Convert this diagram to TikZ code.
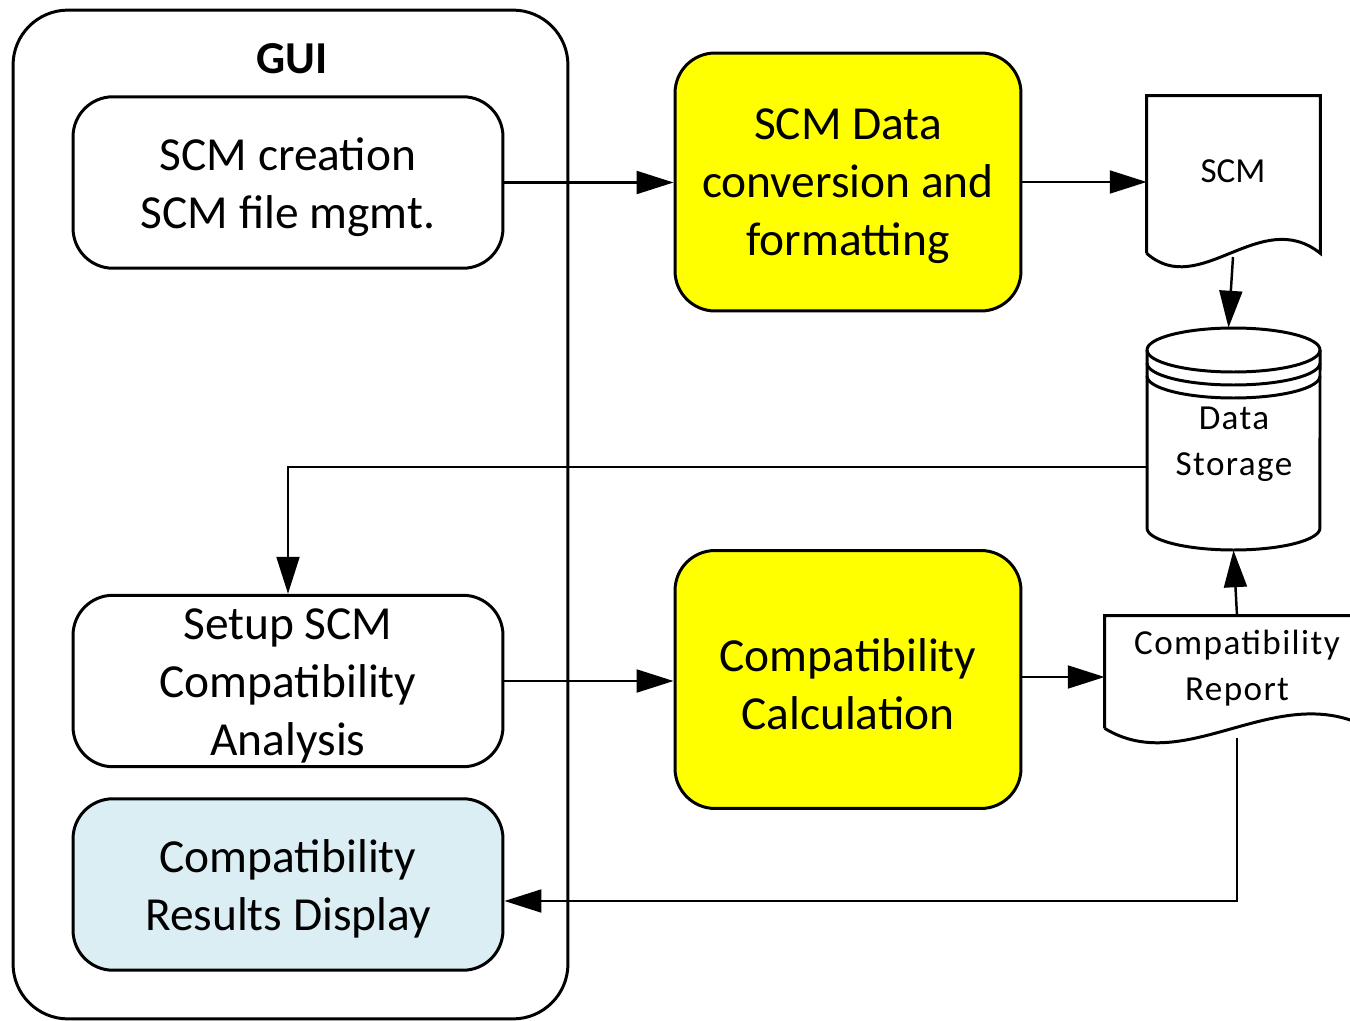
\documentclass[tikz,border=0pt]{standalone}
\usepackage{fontspec}
\setmainfont{Carlito}
\newfontfamily\spacedfont[LetterSpace=4]{Carlito}
\usetikzlibrary{arrows.meta,calc}
\definecolor{ylw}{HTML}{FFFF00}
\definecolor{lblue}{HTML}{DAEEF3}
\begin{document}
\begin{tikzpicture}[x=0.02cm,y=-0.02cm,
  shp/.style={line width=1.7pt},
  box/.style={draw,line width=1.7pt,rounded corners=0.8cm,
    minimum width=8.6cm,minimum height=3.43cm,inner sep=0pt},
  ybox/.style={box,fill=ylw,minimum width=6.92cm,minimum height=5.16cm},
  boxtxt/.style={align=center,inner sep=0pt,yshift=-0.09cm,
    font=\fontsize{27}{33}\selectfont},
  conn/.style={line width=1.4pt,-{Triangle[length=21pt,width=13pt]}},
  small/.style={align=center,inner sep=0pt,font=\spacedfont\fontsize{20}{26}\selectfont}]
\useasboundingbox (0,0) rectangle (1350,1021);
\clip (0,0) rectangle (1350,1021);
\fill[white] (0,0) rectangle (1350,1021);

% GUI container
\node[draw,line width=1.7pt,rounded corners=1.1cm,minimum width=11.1cm,minimum height=20.18cm,inner sep=0pt] (gui) at (290.5,514.5) {};
\node[font=\bfseries\fontsize{26}{30}\selectfont,inner sep=0pt] (guilbl) at (292,59) {GUI};

% GUI boxes
\node[box] (b1) at (288,182.5) {};
\node[boxtxt] (b1t) at (b1) {SCM creation\\SCM file mgmt.};
\node[box] (b2) at (288,681) {};
\node[boxtxt] (b2t) at (b2) {Setup SCM\\Compatibility\\Analysis};
\node[box,fill=lblue] (b3) at (288,884.5) {};
\node[boxtxt] (b3t) at (b3) {Compatibility\\Results Display};

% yellow boxes
\node[ybox] (y1) at (848,182) {};
\node[boxtxt] (y1t) at (y1) {SCM Data\\conversion and\\formatting};
\node[ybox] (y2) at (848,679.5) {};
\node[boxtxt] (y2t) at (y2) {Compatibility\\Calculation};

% SCM document
\node[minimum width=3.46cm,minimum height=3.14cm,inner sep=0pt] (scmdoc) at (1233.5,174.5) {};
\draw[shp] (scmdoc.south west) -- (scmdoc.north west) -- (scmdoc.north east) -- (scmdoc.south east)
  .. controls +(-60,-48) and +(53,47) .. (scmdoc.south west);
\node[font=\fontsize{20}{26}\selectfont,inner sep=0pt] (scmtxt) at (1233,171) {SCM};
\coordinate (scmbot) at (1233,257);

% Data storage cylinder
\node[minimum width=3.46cm,minimum height=4.44cm,inner sep=0pt] (store) at (1233.5,439) {};
\draw[shp] (1147,350) -- (1147,528) arc[start angle=180,end angle=360,x radius=1.73cm,y radius=0.44cm] -- (1320,350);
\draw[shp] (1233.5,350) ellipse[x radius=1.73cm,y radius=0.44cm];
\draw[shp] (1147,363) arc[start angle=180,end angle=360,x radius=1.73cm,y radius=0.44cm];
\draw[shp] (1147,376) arc[start angle=180,end angle=360,x radius=1.73cm,y radius=0.44cm];
\node[small] (storetxt) at (1234,444) {Data\\Storage};

% Compatibility report document
\node[minimum width=5.28cm,minimum height=2.24cm,inner sep=0pt] (report) at (1237,672) {};
\draw[shp] (report.south west) -- (report.north west) -- (report.north east) -- (report.south east)
  .. controls +(-92,-50) and +(81,50) .. (report.south west);
\node[small] (reptxt) at (1237,668) {Compatibility\\Report};
\coordinate (repbot) at (1237,738);

% connectors
\draw[conn] (b1.east) -- (b1.east -| y1.west);
\draw[conn] (y1.east) -- (y1.east -| scmdoc.west);
\draw[conn] (scmbot) -- ([xshift=-0.1cm]store.north);
\draw[conn] ([yshift=-0.56cm]store.west) -| (b2.north);
\draw[conn] (b2.east) -- (b2.east -| y2.west);
\draw[conn] ([yshift=0.05cm]y2.east) -- ([yshift=0.05cm]y2.east -| report.west);
\draw[conn] (report.north) -- (store.south);
\draw[conn] (repbot) |- ([yshift=-0.33cm]b3.east);
\end{tikzpicture}
\end{document}
